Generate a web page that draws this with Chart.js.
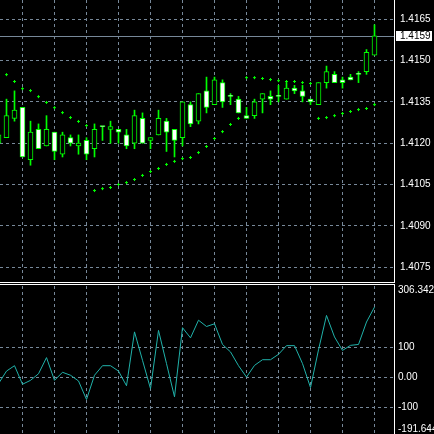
<!DOCTYPE html>
<html>
<head>
<meta charset="utf-8">
<script src="https://cdn.jsdelivr.net/npm/chart.js@4.4.0/dist/chart.umd.min.js"></script>
<style>
  html, body { margin: 0; padding: 0; background: #000; width: 434px; height: 434px; overflow: hidden; }
  canvas { position: absolute; left: 0; }
  #priceChart { top: 0; }
  #cciChart { top: 284px; }
</style>
</head>
<body>
<canvas id="priceChart" width="434" height="284"></canvas>
<canvas id="cciChart" width="434" height="151"></canvas>
<script>
// bar 0 is the candle cut off at the left edge
const opens  = [1.4120, 1.4122, 1.4129, 1.4133, 1.4114, 1.4125, 1.4119, 1.4124, 1.4116, 1.4122, 1.4119, 1.4121,
                1.4118, 1.4126, 1.4125, 1.4125, 1.4123, 1.4120, 1.4129, 1.4121, 1.4123, 1.4128, 1.4125, 1.4122,
                1.4134, 1.4128, 1.4139, 1.4134, 1.4142, 1.4137, 1.4136, 1.4130, 1.4130, 1.4136, 1.4137, 1.4137,
                1.4136, 1.4140, 1.4139, 1.4136, 1.4134, 1.4142, 1.4145, 1.4143, 1.4144, 1.4145, 1.4146, 1.4152];
const highs  = [1.4124, 1.4136, 1.4139, 1.4133, 1.4128, 1.4127, 1.4130, 1.4124, 1.4124, 1.4123, 1.4123, 1.4122,
                1.4127, 1.4126, 1.4128, 1.4125, 1.4125, 1.4132, 1.4131, 1.4122, 1.4132, 1.4129, 1.4125, 1.4135,
                1.4135, 1.4138, 1.4144, 1.4144, 1.4143, 1.4138, 1.4137, 1.4133, 1.4136, 1.4138, 1.4139, 1.4141,
                1.4142, 1.4141, 1.4141, 1.4136, 1.4142, 1.4148, 1.4146, 1.4144, 1.4145, 1.4146, 1.4154, 1.4163];
const lows   = [1.4118, 1.4122, 1.4128, 1.4115, 1.4112, 1.4118, 1.4119, 1.4114, 1.4115, 1.4119, 1.4116, 1.4114,
                1.4115, 1.4121, 1.4120, 1.4120, 1.4118, 1.4118, 1.4120, 1.4118, 1.4123, 1.4117, 1.4115, 1.4119,
                1.4126, 1.4127, 1.4131, 1.4134, 1.4133, 1.4134, 1.4131, 1.4129, 1.4129, 1.4131, 1.4134, 1.4135,
                1.4136, 1.4138, 1.4135, 1.4134, 1.4134, 1.4140, 1.4142, 1.4140, 1.4143, 1.4142, 1.4145, 1.4152];
const closes = [1.4123, 1.4130, 1.4132, 1.4115, 1.4124, 1.4118, 1.4125, 1.4117, 1.4123, 1.4120, 1.4120, 1.4116,
                1.4125, 1.4126, 1.4126, 1.4124, 1.4119, 1.4130, 1.4120, 1.4122, 1.4129, 1.4124, 1.4121, 1.4135,
                1.4127, 1.4138, 1.4133, 1.4143, 1.4135, 1.4137, 1.4131, 1.4129, 1.4135, 1.4138, 1.4136, 1.4137,
                1.4140, 1.4139, 1.4137, 1.4135, 1.4142, 1.4146, 1.4142, 1.4142, 1.4143, 1.4145, 1.4153, 1.4159];

// parabolic SAR
const sar = [null, 1.41449, 1.41424, 1.41398, 1.41391, 1.41369, 1.41348, 1.41329, 1.41311, 1.41293, 1.41279, 1.41264,
             1.41028, 1.41035, 1.41039, 1.41050, 1.41057, 1.41068, 1.41083, 1.41097, 1.41108, 1.41123, 1.41134, 1.41144,
             1.41148, 1.41166, 1.41188, 1.41217, 1.41242, 1.41268, 1.41290, 1.41438, 1.41438, 1.41435, 1.41431, 1.41427,
             1.41424, 1.41424, 1.41420, 1.41417, 1.41290, 1.41293, 1.41300, 1.41308, 1.41315, 1.41322, 1.41326, 1.41340];

// CCI
const cci = [-20, 22, 40, -22, -9, 13, 67, -9, 18, 8, -11, -73,
             8, 40, 40, 22, -27, 153, 58, -37, 158, 47, -64, 167,
             133, 192, 171, 180, 111, 86, 40, 2, 41, 60, 60, 78,
             107, 107, 47, -33, 93, 208, 136, 91, 108, 111, 186, 236];

const priceTicks = [1.4165, 1.4150, 1.4135, 1.4120, 1.4105, 1.4090, 1.4075];
const cciTicks = [100, 0, -100];
const cciTop = 306.3428;
const cciBottom = -191.644;
const gridBars = [3, 7, 11, 15, 19, 23, 27, 31, 35, 39, 43, 47];

const LIME = '#00ff00';
const GRID = '#778899';
const FONT = "'Liberation Sans', Arial, sans-serif";

const noPad = (s) => { s.paddingTop = 0; s.paddingBottom = 0; s.paddingLeft = 0; s.paddingRight = 0; };

const xScale = (withBorder) => ({
  type: 'linear',
  min: 0.1875,
  max: 49.4375,
  offset: false,
  afterBuildTicks: (s) => { s.ticks = gridBars.map((v) => ({ value: v })); },
  afterFit: (s) => { s.height = 0; noPad(s); },
  ticks: { display: false },
  grid: { color: GRID, drawTicks: false, offset: false },
  border: { display: withBorder, color: '#ffffff', dash: [3, 3] },
});

// bid line and its label box
const bidLine = {
  id: 'bidLine',
  beforeDatasetsDraw(chart) {
    const { ctx, chartArea, scales } = chart;
    const y = Math.round(scales.y.getPixelForValue(closes[closes.length - 1])) + 0.5;
    ctx.save();
    ctx.strokeStyle = GRID;
    ctx.lineWidth = 1;
    ctx.beginPath();
    ctx.moveTo(chartArea.left, y);
    ctx.lineTo(chartArea.right, y);
    ctx.stroke();
    ctx.restore();
  },
  afterDraw(chart) {
    const { ctx, chartArea, scales } = chart;
    const last = closes[closes.length - 1];
    const y = Math.round(scales.y.getPixelForValue(last));
    ctx.save();
    ctx.fillStyle = '#ffffff';
    ctx.fillRect(chartArea.right + 2, y - 5, 36, 10);
    ctx.fillStyle = '#000000';
    ctx.font = '10px ' + FONT;
    ctx.textBaseline = 'middle';
    ctx.fillText(last.toFixed(4), chartArea.right + 6, y + 0.5);
    ctx.restore();
  },
};

new Chart(document.getElementById('priceChart'), {
  type: 'bar',
  data: {
    datasets: [
      {
        type: 'line',
        data: sar.map((v, i) => ({ x: i, y: v })),
        showLine: false,
        pointStyle: 'cross',
        pointRadius: 1.5,
        pointBorderWidth: 1,
        pointBorderColor: LIME,
        pointBackgroundColor: LIME,
      },
      {
        data: opens.map((o, i) => ({ x: i, y: [o, closes[i]] })),
        grouped: false,
        barThickness: 5,
        minBarLength: 1,
        borderWidth: 1,
        borderSkipped: false,
        borderColor: LIME,
        backgroundColor: opens.map((o, i) => (closes[i] > o ? '#000000' : '#ffffff')),
      },
      {
        data: lows.map((l, i) => ({ x: i, y: [l, highs[i]] })),
        grouped: false,
        barThickness: 1,
        borderWidth: 0,
        backgroundColor: LIME,
      },
    ],
  },
  options: {
    responsive: false,
    animation: false,
    events: [],
    layout: { autoPadding: false, padding: { top: 0, bottom: 2, left: 0, right: 0 } },
    plugins: { legend: { display: false }, tooltip: { enabled: false } },
    scales: {
      x: xScale(true),
      y: {
        position: 'right',
        min: 1.40696,
        max: 1.41720,
        afterBuildTicks: (s) => { s.ticks = priceTicks.map((v) => ({ value: v })); },
        afterFit: (s) => { s.width = 40; noPad(s); },
        ticks: { color: '#ffffff', padding: 6, font: { family: FONT, size: 10 }, callback: (v) => v.toFixed(4) },
        grid: { color: GRID, drawTicks: false },
        border: { color: '#ffffff', dash: [3, 3] },
      },
    },
  },
  plugins: [bidLine],
});

// separator, top/bottom values of the CCI window
const cciFrame = {
  id: 'cciFrame',
  afterDraw(chart) {
    const { ctx, chartArea } = chart;
    ctx.save();
    ctx.fillStyle = '#ffffff';
    ctx.fillRect(0, 0, chartArea.right + 1, 1);
    ctx.fillRect(chartArea.right, 0, 1, chartArea.top + 1);
    ctx.font = '10px ' + FONT;
    ctx.textBaseline = 'middle';
    ctx.fillText(cciTop.toFixed(4), chartArea.right + 4, chartArea.top + 4.5);
    ctx.fillText(cciBottom.toFixed(3), chartArea.right + 4, chartArea.bottom - 6);
    ctx.restore();
  },
};

new Chart(document.getElementById('cciChart'), {
  type: 'line',
  data: {
    datasets: [
      {
        data: cci.map((v, i) => ({ x: i, y: v })),
        borderColor: 'rgb(32,178,170)',
        borderWidth: 1,
        pointRadius: 0,
        tension: 0,
      },
    ],
  },
  options: {
    responsive: false,
    animation: false,
    events: [],
    layout: { autoPadding: false, padding: { top: 2, bottom: 0, left: 0, right: 0 } },
    plugins: { legend: { display: false }, tooltip: { enabled: false } },
    scales: {
      x: xScale(false),
      y: {
        position: 'right',
        min: cciBottom,
        max: cciTop,
        afterBuildTicks: (s) => { s.ticks = cciTicks.map((v) => ({ value: v })); },
        afterFit: (s) => { s.width = 40; noPad(s); },
        ticks: { color: '#ffffff', padding: 4, font: { family: FONT, size: 10 }, callback: (v) => (v === 0 ? '0.00' : String(v)) },
        grid: { color: GRID, drawTicks: false },
        border: { color: '#ffffff', dash: [3, 3] },
      },
    },
  },
  plugins: [cciFrame],
});
</script>
</body>
</html>
